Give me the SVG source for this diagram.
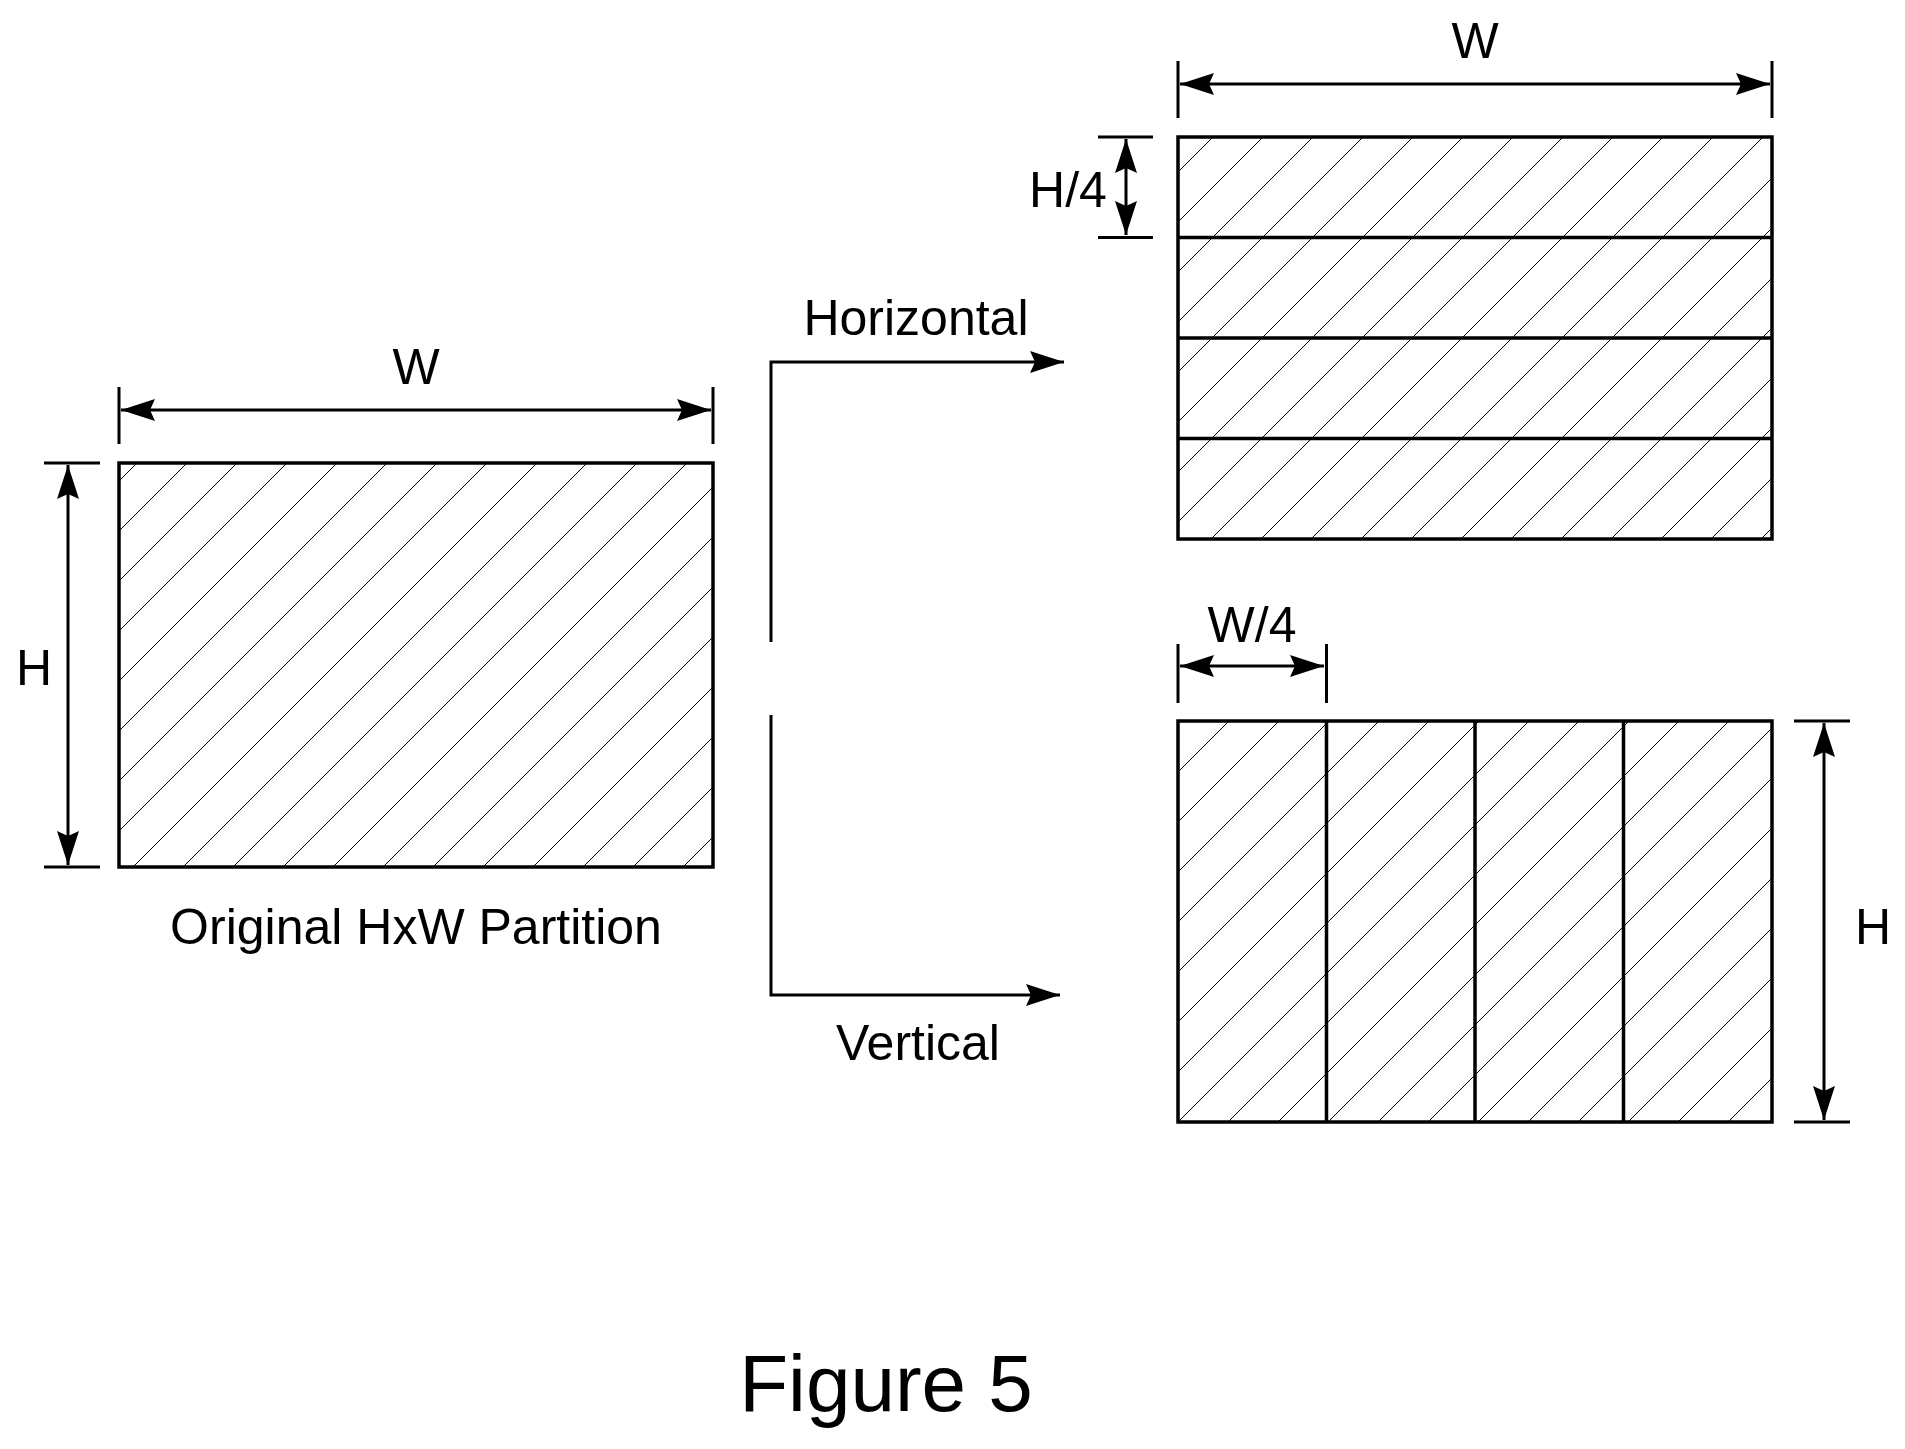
<svg xmlns="http://www.w3.org/2000/svg" width="1905" height="1449" viewBox="0 0 1905 1449">
<style>
.t{font-family:"Liberation Sans",Arial,sans-serif;font-size:50px;fill:#000;text-anchor:middle}
.box{fill:url(#hatch);stroke:#000;stroke-width:3.5}
.div{stroke:#000;stroke-width:3.5}
.dim{stroke:#000;stroke-width:3;fill:none}
.ext{stroke:#000;stroke-width:3;fill:none}
</style>
<defs>
<pattern id="hatch" patternUnits="userSpaceOnUse" width="50" height="50">
<path d="M-5,5 L5,-5 M0,50 L50,0 M45,55 L55,45" stroke="#000" stroke-width="1"/>
</pattern>
<marker id="a" viewBox="0 0 34 22" refX="34" refY="11" markerWidth="34" markerHeight="22" markerUnits="userSpaceOnUse" orient="auto-start-reverse">
<path d="M0,0 L34,11 L0,22 L5,11 Z" fill="#000"/>
</marker>
</defs>
<rect width="1905" height="1449" fill="#fff"/>
<g id="original">
<rect class="box" x="119" y="463" width="594" height="404"/>
<path class="ext" d="M119,387V444M713,387V444M44,463H100M44,867H100"/>
<path class="dim" d="M121,410H711" marker-start="url(#a)" marker-end="url(#a)"/>
<path class="dim" d="M68,465V865" marker-start="url(#a)" marker-end="url(#a)"/>
<text class="t" x="416" y="384">W</text>
<text class="t" x="34" y="685">H</text>
<text class="t" x="416" y="944">Original HxW Partition</text>
</g>
<g id="horizontal">
<rect class="box" x="1178" y="137" width="594" height="402"/>
<path class="div" d="M1178,237.5H1772M1178,338H1772M1178,438.5H1772"/>
<path class="ext" d="M1178,61V118M1772,61V118M1098,137H1153M1098,237.5H1153"/>
<path class="dim" d="M1180,84H1770" marker-start="url(#a)" marker-end="url(#a)"/>
<path class="dim" d="M1126,139V235" marker-start="url(#a)" marker-end="url(#a)"/>
<text class="t" x="1475" y="58">W</text>
<text class="t" x="1068" y="207">H/4</text>
</g>
<g id="vertical">
<rect class="box" x="1178" y="721" width="594" height="401"/>
<path class="div" d="M1326.5,721V1122M1475,721V1122M1623.5,721V1122"/>
<path class="ext" d="M1178,644V703M1326.5,644V703M1794,721H1850M1794,1122H1850"/>
<path class="dim" d="M1180,666H1324" marker-start="url(#a)" marker-end="url(#a)"/>
<path class="dim" d="M1824,723V1120" marker-start="url(#a)" marker-end="url(#a)"/>
<text class="t" x="1252" y="642">W/4</text>
<text class="t" x="1873" y="944">H</text>
</g>
<g id="connectors">
<path class="dim" d="M771,642V362H1064" marker-end="url(#a)"/>
<path class="dim" d="M771,715V995H1060" marker-end="url(#a)"/>
<text class="t" x="916" y="335">Horizontal</text>
<text class="t" x="918" y="1060">Vertical</text>
</g>
<text class="t" x="886" y="1411" style="font-size:80px">Figure 5</text>
</svg>
